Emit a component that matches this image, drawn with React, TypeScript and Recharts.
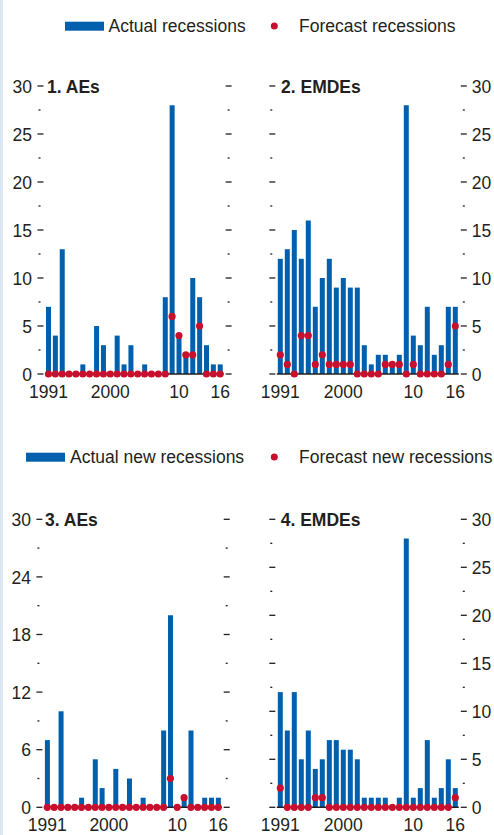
import { ComposedChart, Bar, Scatter, XAxis, YAxis } from "recharts";

const BLUE = "#0060ad";
const RED = "#c8102e";
const INK = "#231f20";
const FONT = "'Liberation Sans', Arial, sans-serif";
const FS = 17.5;

const years = [
  "1991", "1992", "1993", "1994", "1995", "1996", "1997", "1998", "1999", "2000",
  "2001", "2002", "2003", "2004", "2005", "2006", "2007", "2008", "2009", "2010",
  "2011", "2012", "2013", "2014", "2015", "2016",
];

// 1. AEs: all recessions
const aeActual = [7, 4, 13, 0, 0, 1, 0, 5, 3, 0, 4, 1, 3, 0, 1, 0, 0, 8, 28, 4, 2, 10, 8, 3, 1, 1];
const aeForecast = [0, 0, 0, 0, 0, 0, 0, 0, 0, 0, 0, 0, 0, 0, 0, 0, 0, 0, 6, 4, 2, 2, 5, 0, 0, 0];
// 2. EMDEs: all recessions
const emdeActual = [12, 13, 15, 12, 16, 7, 10, 12, 9, 10, 9, 9, 3, 1, 2, 2, 1, 2, 28, 4, 3, 7, 2, 3, 7, 7];
const emdeForecast = [2, 1, 0, 4, 4, 1, 2, 1, 1, 1, 1, 0, 0, 0, 0, 1, 1, 1, 0, 1, 0, 0, 0, 0, 1, 5];
// 3. AEs: new recessions
const aeNewActual = [7, 0, 10, 0, 0, 1, 0, 5, 2, 0, 4, 0, 3, 0, 1, 0, 0, 8, 20, 0, 1, 8, 0, 1, 1, 1];
const aeNewForecast = [0, 0, 0, 0, 0, 0, 0, 0, 0, 0, 0, 0, 0, 0, 0, 0, 0, 0, 3, 0, 1, 0, 0, 0, 0, 0];
// 4. EMDEs: new recessions
const emdeNewActual = [12, 8, 12, 5, 8, 4, 5, 7, 7, 6, 6, 5, 1, 1, 1, 1, 0, 1, 28, 1, 2, 7, 1, 2, 5, 2];
const emdeNewForecast = [2, 0, 0, 0, 0, 1, 1, 0, 0, 0, 0, 0, 0, 0, 0, 0, 0, 0, 0, 0, 0, 0, 0, 0, 0, 1];

const xTicks = ["1991", "2000", "2010", "2016"];
const xTickText: Record<string, string> = { "1991": "1991", "2000": "2000", "2010": "10", "2016": "16" };
const ticksBy5 = [0, 2.5, 5, 7.5, 10, 12.5, 15, 17.5, 20, 22.5, 25, 27.5, 30];
const ticksBy6 = [0, 3, 6, 9, 12, 15, 18, 21, 24, 27, 30];

type PanelProps = {
  left: number;
  top: number;
  height: number;
  padTop: number;
  axisH: number;
  plotLeft: number;
  plotRight: number;
  labelDy: number;
  actual: number[];
  forecast: number[];
  ticks: number[];
  step: number;
  labelSide: "left" | "right";
};

const W = 247;

function Panel(p: PanelProps) {
  const data = years.map((year, i) => ({ year, actual: p.actual[i], forecast: p.forecast[i] }));
  const plotBottom = p.height - p.axisH;

  const yTick = (t: any) => {
    const v = t.payload.value;
    const y = t.y;
    const major = Math.abs(v / p.step - Math.round(v / p.step)) < 1e-6;
    const l0 = p.plotLeft - 7.5;
    const r0 = p.plotRight + 2;
    return (
      <g>
        <line x1={l0 + (major ? 0 : 1)} x2={major ? l0 + 6 : l0 + 3} y1={y} y2={y} stroke={INK} strokeWidth={1.3} />
        <line x1={r0 + (major ? 0 : 2)} x2={major ? r0 + 6 : r0 + 4} y1={y} y2={y} stroke={INK} strokeWidth={1.3} />
        {major && (
          <text
            x={p.labelSide === "left" ? p.plotLeft - 13 : p.plotRight + 13}
            y={y + 6.6}
            textAnchor={p.labelSide === "left" ? "end" : "start"}
            fontFamily={FONT}
            fontSize={FS}
            fill={INK}
          >
            {v}
          </text>
        )}
      </g>
    );
  };

  const xTick = (t: any) => (
    <text x={t.x} y={plotBottom + p.labelDy} textAnchor="middle" fontFamily={FONT} fontSize={FS} fill={INK}>
      {xTickText[t.payload.value]}
    </text>
  );

  return (
    <div style={{ position: "absolute", left: p.left, top: p.top }}>
      <ComposedChart
        width={W}
        height={p.height}
        data={data}
        margin={{ top: p.padTop, right: W - p.plotRight, bottom: 0, left: 0 }}
      >
        <XAxis
          dataKey="year"
          ticks={xTicks}
          interval={0}
          tickLine={false}
          axisLine={{ stroke: INK, strokeWidth: 1.5 }}
          height={p.axisH}
          tick={xTick}
        />
        <YAxis
          domain={[0, 30]}
          ticks={p.ticks}
          interval={0}
          width={p.plotLeft}
          axisLine={false}
          tickLine={false}
          tick={yTick}
        />
        <Bar dataKey="actual" fill={BLUE} barSize={5} isAnimationActive={false} />
        <Scatter
          dataKey="forecast"
          fill={RED}
          isAnimationActive={false}
          shape={(s: any) => <circle cx={s.cx} cy={s.cy} r={3.6} fill={RED} />}
        />
      </ComposedChart>
    </div>
  );
}

export default function App() {
  const txt = { fontFamily: FONT, fontSize: FS, fill: INK };
  return (
    <div style={{ position: "absolute", left: 0, top: 0, width: 494, height: 835, background: "#fff", overflow: "hidden" }}>
      <Panel left={0} top={60} height={350} padTop={26} axisH={36} plotLeft={45} plotRight={223.6} labelDy={24.3}
        actual={aeActual} forecast={aeForecast} ticks={ticksBy5} step={5} labelSide="left" />
      <Panel left={247} top={60} height={350} padTop={26} axisH={36} plotLeft={29.8} plotRight={211.8} labelDy={24.3}
        actual={emdeActual} forecast={emdeForecast} ticks={ticksBy5} step={5} labelSide="right" />
      <Panel left={0} top={480} height={355} padTop={39.3} axisH={27.7} plotLeft={43.9} plotRight={221.7} labelDy={23.8}
        actual={aeNewActual} forecast={aeNewForecast} ticks={ticksBy6} step={6} labelSide="left" />
      <Panel left={247} top={480} height={355} padTop={39.3} axisH={27.7} plotLeft={29.8} plotRight={211.8} labelDy={23.8}
        actual={emdeNewActual} forecast={emdeNewForecast} ticks={ticksBy5} step={5} labelSide="right" />
      <svg width={494} height={835} style={{ position: "absolute", left: 0, top: 0, pointerEvents: "none" }}>
        <rect x={0} y={0} width={3} height={835} fill="#dce6f2" />
        <rect x={65} y={21.7} width={39} height={9} fill={BLUE} />
        <text x={108.5} y={32.3} {...txt}>Actual recessions</text>
        <circle cx={274.3} cy={26} r={3.5} fill={RED} />
        <text x={299} y={32.3} {...txt}>Forecast recessions</text>
        <rect x={26} y={452.7} width={39} height={9} fill={BLUE} />
        <text x={70} y={463.3} {...txt}>Actual new recessions</text>
        <circle cx={274.3} cy={457} r={3.5} fill={RED} />
        <text x={299} y={463.3} {...txt}>Forecast new recessions</text>
        <text x={47} y={92.7} {...txt} fontWeight="bold">1. AEs</text>
        <text x={281} y={92.7} {...txt} fontWeight="bold">2. EMDEs</text>
        <text x={45} y={526} {...txt} fontWeight="bold">3. AEs</text>
        <text x={280.7} y={526} {...txt} fontWeight="bold">4. EMDEs</text>
      </svg>
    </div>
  );
}
